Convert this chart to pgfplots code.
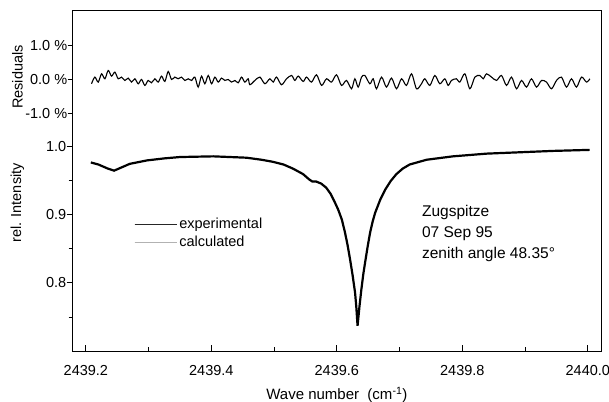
\documentclass[border=0pt]{standalone}
\usepackage{pgfplots}
\pgfplotsset{compat=1.18}
\usepackage{pgfplotstable}
\usepackage{fontspec}
\setmainfont{Liberation Sans}

\pgfplotstableread{
x I
2439.208 0.977
2439.220 0.974
2439.235 0.968
2439.245 0.965
2439.255 0.969
2439.270 0.975
2439.297 0.980
2439.325 0.983
2439.350 0.985
2439.403 0.986
2439.456 0.984
2439.480 0.981
2439.498 0.978
2439.515 0.974
2439.530 0.968
2439.546 0.960
2439.556 0.952
2439.561 0.949
2439.567 0.949
2439.575 0.946
2439.583 0.940
2439.590 0.931
2439.596 0.920
2439.602 0.908
2439.608 0.893
2439.613 0.874
2439.617 0.856
2439.621 0.835
2439.625 0.812
2439.629 0.786
2439.631 0.765
2439.633 0.737
2439.636 0.765
2439.639 0.790
2439.642 0.812
2439.645 0.830
2439.649 0.853
2439.653 0.874
2439.657 0.890
2439.661 0.903
2439.669 0.922
2439.677 0.937
2439.686 0.950
2439.695 0.960
2439.705 0.968
2439.716 0.974
2439.743 0.981
2439.785 0.986
2439.839 0.990
2439.892 0.992
2439.945 0.994
2440.003 0.9955
}\intensity

\pgfplotstableread{
x R
2439.2090 -0.126
2439.2143 0.068
2439.2197 -0.077
2439.2250 0.164
2439.2303 0.019
2439.2356 0.261
2439.2409 0.097
2439.2462 0.213
2439.2515 0.019
2439.2568 0.068
2439.2622 -0.029
2439.2675 0.039
2439.2728 -0.077
2439.2781 0.019
2439.2834 -0.126
2439.2887 0.000
2439.2940 -0.174
2439.2993 -0.029
2439.3046 -0.097
2439.3100 0.019
2439.3153 -0.077
2439.3206 0.097
2439.3259 -0.058
2439.3312 0.232
2439.3365 0.000
2439.3418 0.068
2439.3471 0.019
2439.3525 0.068
2439.3578 -0.029
2439.3631 0.019
2439.3684 -0.029
2439.3737 0.068
2439.3790 -0.222
2439.3843 0.097
2439.3896 -0.126
2439.3950 0.116
2439.4003 -0.126
2439.4056 0.068
2439.4109 -0.077
2439.4162 0.039
2439.4215 -0.029
2439.4268 0.000
2439.4321 -0.077
2439.4375 -0.029
2439.4428 -0.097
2439.4481 0.068
2439.4534 -0.077
2439.4587 0.019
2439.4614 -0.155
2439.4693 -0.029
2439.4773 0.068
2439.4853 -0.126
2439.4932 0.019
2439.4985 -0.077
2439.5039 0.068
2439.5118 -0.155
2439.5198 0.019
2439.5278 0.116
2439.5331 -0.029
2439.5384 0.097
2439.5463 -0.058
2439.5517 0.068
2439.5596 -0.077
2439.5676 0.135
2439.5756 -0.174
2439.5835 0.019
2439.5915 -0.077
2439.5995 0.135
2439.6074 -0.174
2439.6154 -0.029
2439.6234 -0.271
2439.6287 0.019
2439.6340 -0.222
2439.6393 0.068
2439.6446 0.116
2439.6526 -0.126
2439.6579 0.019
2439.6632 -0.271
2439.6712 0.068
2439.6791 -0.222
2439.6871 0.039
2439.6951 -0.271
2439.7031 0.019
2439.7110 -0.174
2439.7190 0.164
2439.7270 -0.271
2439.7349 -0.126
2439.7402 0.019
2439.7482 -0.174
2439.7562 0.116
2439.7641 -0.126
2439.7721 0.019
2439.7774 -0.174
2439.7827 -0.029
2439.7907 0.019
2439.7960 -0.077
2439.8040 0.164
2439.8120 -0.271
2439.8199 0.068
2439.8279 0.116
2439.8332 0.019
2439.8385 0.164
2439.8465 0.068
2439.8544 -0.029
2439.8624 0.116
2439.8704 -0.174
2439.8784 0.068
2439.8863 -0.271
2439.8943 -0.029
2439.9023 -0.222
2439.9102 0.019
2439.9182 -0.222
2439.9262 -0.029
2439.9341 -0.077
2439.9421 -0.271
2439.9501 -0.029
2439.9580 0.068
2439.9660 -0.222
2439.9740 0.019
2439.9819 -0.222
2439.9899 0.068
2439.9979 -0.077
2440.0032 0.019
}\residuals

\begin{document}
\begin{tikzpicture}
\pgfplotsset{
  every axis/.append style={font=\fontsize{14bp}{17bp}\selectfont},
  tick label style={font=\fontsize{14.5bp}{17bp}\selectfont},
}
\begin{axis}[
  name=main,
  width=528.3bp, height=340.3bp, scale only axis,
  xmin=2439.179, xmax=2440.021,
  ymin=0.70, ymax=1.20,
  axis line style={line width=1bp},
  xtick={2439.2,2439.4,2439.6,2439.8,2440.0},
  xticklabels={2439.2,2439.4,2439.6,2439.8,2440.0},
  minor xtick={2439.3,2439.5,2439.7,2439.9},
  ytick={0.8,0.9,1.0},
  yticklabels={0.8,0.9,1.0},
  minor ytick={0.75,0.85,0.95},
  xtick pos=bottom, ytick pos=left,
  xtick align=inside, ytick align=outside,
  major tick length=6bp, minor tick length=4bp,
  every tick/.style={black, line width=0.9bp},
  xticklabel style={yshift=-11bp},
  yticklabel style={xshift=3bp},
  xlabel={Wave number\ \ (cm\textsuperscript{-1})},
  xlabel style={at={(axis description cs:0.5,-0.128)}, anchor=center, font=\fontsize{15bp}{18bp}\selectfont},
  ylabel={rel. Intensity},
  ylabel style={at={(axis description cs:-0.1045,0.435)}, anchor=center, font=\fontsize{14.5bp}{17bp}\selectfont},
  legend style={draw=none, fill=none, inner sep=0pt,
    at={(axis description cs:0.116,0.397)}, anchor=north west,
    font=\fontsize{14.5bp}{17bp}\selectfont, row sep=2bp},
  legend cell align=left,
  legend image code/.code={\path (0bp,0bp) -- (42bp,0bp); \draw[#1] (0bp,0bp) -- (37bp,0bp);},
  clip=false,
]
\addlegendimage{black!85, line width=1.1bp}
\addlegendentry{experimental}
\addlegendimage{gray!60, line width=0.6bp}
\addlegendentry{calculated}
\addplot[gray!60, line width=0.5bp, forget plot] table[x=x,y=I] {\intensity};
\addplot[black, line width=2.2bp, forget plot] table[x=x,y=I] {\intensity};
\node[anchor=west, align=left, inner sep=0pt, font=\fontsize{15.5bp}{21bp}\selectfont]
  at (axis description cs:0.661,0.344) {Zugspitze\\07 Sep 95\\zenith angle 48.35°};
\end{axis}
\begin{axis}[
  at={(main.south west)}, anchor=south west,
  width=528.3bp, height=340.3bp, scale only axis,
  xmin=2439.179, xmax=2440.021,
  ymin=-7.9, ymax=2.0,
  axis x line=none, axis y line*=left,
  y axis line style={-, line width=1bp},
  ytick={-1,0,1},
  yticklabels={-1.0 \%,0.0 \%,1.0 \%},
  ytick align=outside,
  yticklabel style={xshift=3bp},
  major tick length=5bp,
  every tick/.style={black, line width=0.9bp},
  ylabel={Residuals},
  ylabel style={at={(axis description cs:-0.1045,0.805)}, anchor=center, font=\fontsize{14.5bp}{17bp}\selectfont},
]
\addplot[black, line width=1.1bp, smooth, tension=0.5] table[x=x,y=R] {\residuals};
\end{axis}
\pgfresetboundingbox
\path[use as bounding box] ([shift={(-72.7bp,-51bp)}]main.south west) rectangle ([shift={(8bp,10.7bp)}]main.north east);
\end{tikzpicture}
\end{document}
